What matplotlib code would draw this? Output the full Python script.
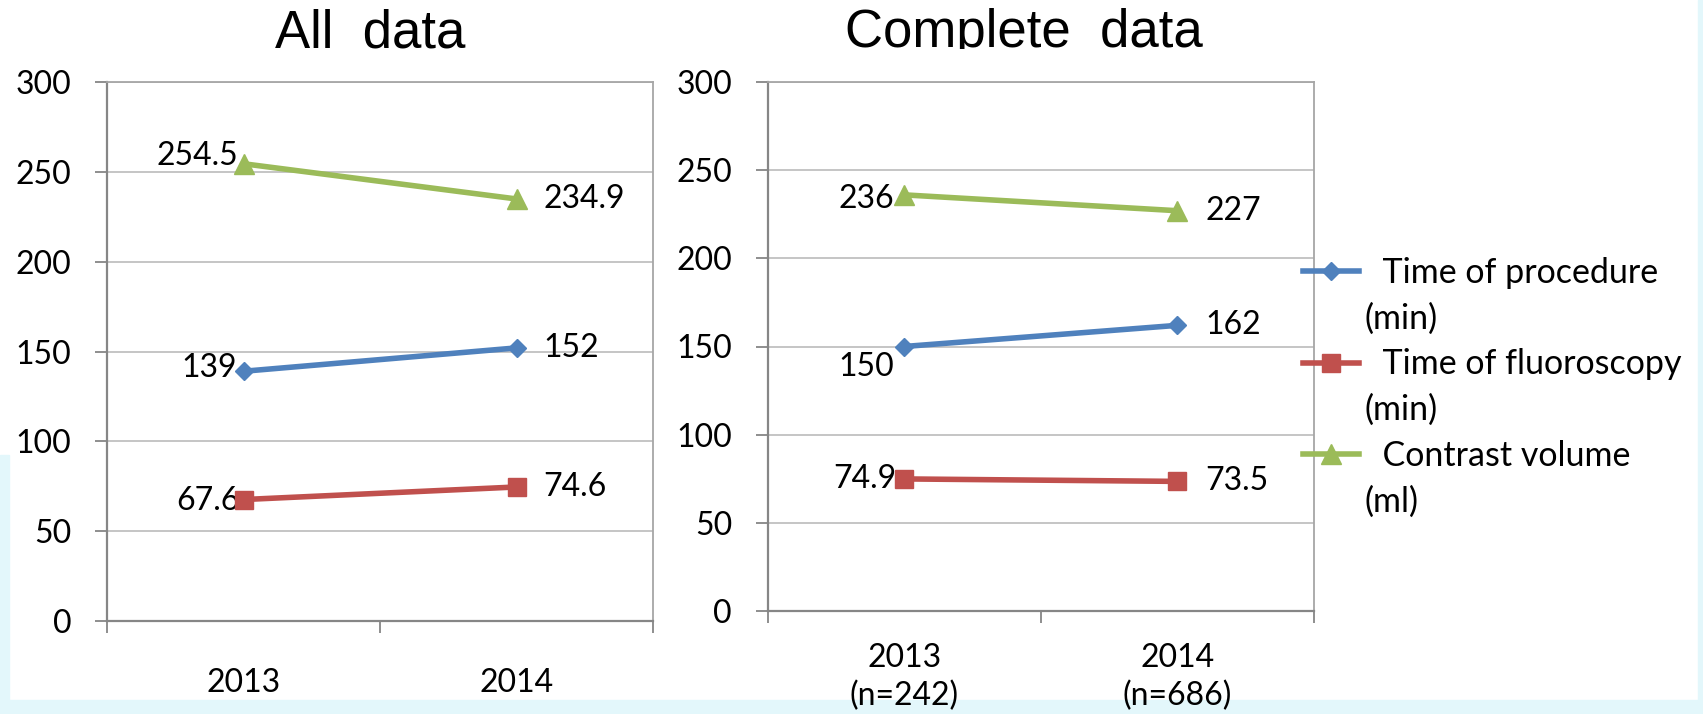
import matplotlib.pyplot as plt
from matplotlib.lines import Line2D
from matplotlib.patches import Rectangle
from matplotlib.transforms import Bbox, TransformedBbox

# Chart data
years = ['2013', '2014']
years_n = ['2013\n(n=242)', '2014\n(n=686)']
series_names = ['Time of procedure', 'Time of fluoroscopy', 'Contrast volume']
series_units = ['(min)', '(min)', '(ml)']
all_procedure = [139, 152]
all_fluoroscopy = [67.6, 74.6]
all_contrast = [254.5, 234.9]
complete_procedure = [150, 162]
complete_fluoroscopy = [74.9, 73.5]
complete_contrast = [236, 227]

COLORS = ['#4F81BD', '#C0504D', '#9BBB59']
MARKERS = [('D', 9), ('s', 13), ('^', 15)]
FONT = 'Lato'
FS = 23
W, H = 1703, 714

fig = plt.figure(figsize=(W / 100, H / 100), dpi=100)
fig.patch.set_facecolor('white')

# faint slide background at the edges
for x0, y0, w, h in [(0, 0, 9, 259), (0, 0, W, 14), (W - 5, 0, 5, H)]:
    fig.add_artist(Rectangle((x0 / W, y0 / H), w / W, h / H, transform=fig.transFigure,
                             color='#e3f7fb', zorder=0))


def make_panel(rect, title, title_x, values, xlabels, offsets, xpad):
    ax = fig.add_axes(rect)
    ax.set_xlim(0, 2)
    ax.set_ylim(0, 300)
    ax.set_yticks(range(0, 301, 50))
    ax.set_xticks([0, 1, 2])
    ax.set_xticklabels([])
    ax.set_xticks([0.5, 1.5], minor=True)
    ax.set_xticklabels(xlabels, minor=True, fontsize=FS, family=FONT, linespacing=1.3)
    ax.tick_params(axis='x', which='major', length=8.5, width=1.3, color='#868686')
    ax.tick_params(axis='x', which='minor', length=0, pad=xpad)
    ax.tick_params(axis='y', length=8.5, width=1.3, color='#868686', pad=17,
                   labelsize=FS)
    for lab in ax.get_yticklabels():
        lab.set_family(FONT)
    ax.grid(axis='y', color='#c0c0c0', lw=1.3)
    ax.set_axisbelow(True)
    for side in ['left', 'bottom']:
        ax.spines[side].set_color('#868686')
        ax.spines[side].set_linewidth(1.6)
    for side in ['top', 'right']:
        ax.spines[side].set_color('#a6a6a6')
        ax.spines[side].set_linewidth(1.3)

    xs = [0.5, 1.5]
    for i, vals in enumerate(values):
        m, ms = MARKERS[i]
        ax.plot(xs, vals, color=COLORS[i], lw=4, marker=m, markersize=ms,
                solid_capstyle='round', zorder=3)
        for j, v in enumerate(vals):
            dx, dy = offsets[i][j]
            ax.annotate(f'{v:g}', (xs[j], v), xytext=(dx, dy), textcoords='offset pixels',
                        ha='right' if j == 0 else 'left', va='center',
                        fontsize=FS, family=FONT, zorder=2)

    t = fig.text(title_x / W, 1 - 47 / H, title, ha='center', va='baseline',
                 fontsize=38, family='Liberation Sans')
    t.set_clip_on(True)
    t.set_clip_box(TransformedBbox(Bbox([[0, 1 - 49 / H], [1, 1]]), fig.transFigure))
    return ax


ax1 = make_panel([107 / W, 93 / H, 546 / W, 539 / H], 'All  data', 370,
                 [all_procedure, all_fluoroscopy, all_contrast], years,
                 [[(-7, 3), (27, 0)], [(-4, -1), (27, 0)], [(-5, 8), (27, 0)]], 34)
ax2 = make_panel([767.5 / W, 103 / H, 546.5 / W, 529 / H], 'Complete  data', 1024,
                 [complete_procedure, complete_fluoroscopy, complete_contrast], years_n,
                 [[(-10, -20), (28, 0)], [(-8, 0), (28, 0)], [(-10, -4), (28, 0)]], 23)

# legend: name row with marker line, unit row below it
handles, labels = [], []
for i in range(3):
    m, ms = MARKERS[i]
    handles.append(Line2D([], [], color=COLORS[i], lw=4, marker=m, markersize=ms))
    labels.append('  ' + series_names[i])
    handles.append(Line2D([], [], alpha=0))
    labels.append(series_units[i])
fig.legend(handles, labels, loc='upper left', bbox_to_anchor=(1303 / W, 1 - 257 / H),
           frameon=False, borderpad=0, borderaxespad=0, handlelength=1.65,
           handletextpad=0.17, labelspacing=0.4, prop={'family': FONT, 'size': 24.5})

fig.savefig('out.png', dpi=100, facecolor=fig.get_facecolor())
